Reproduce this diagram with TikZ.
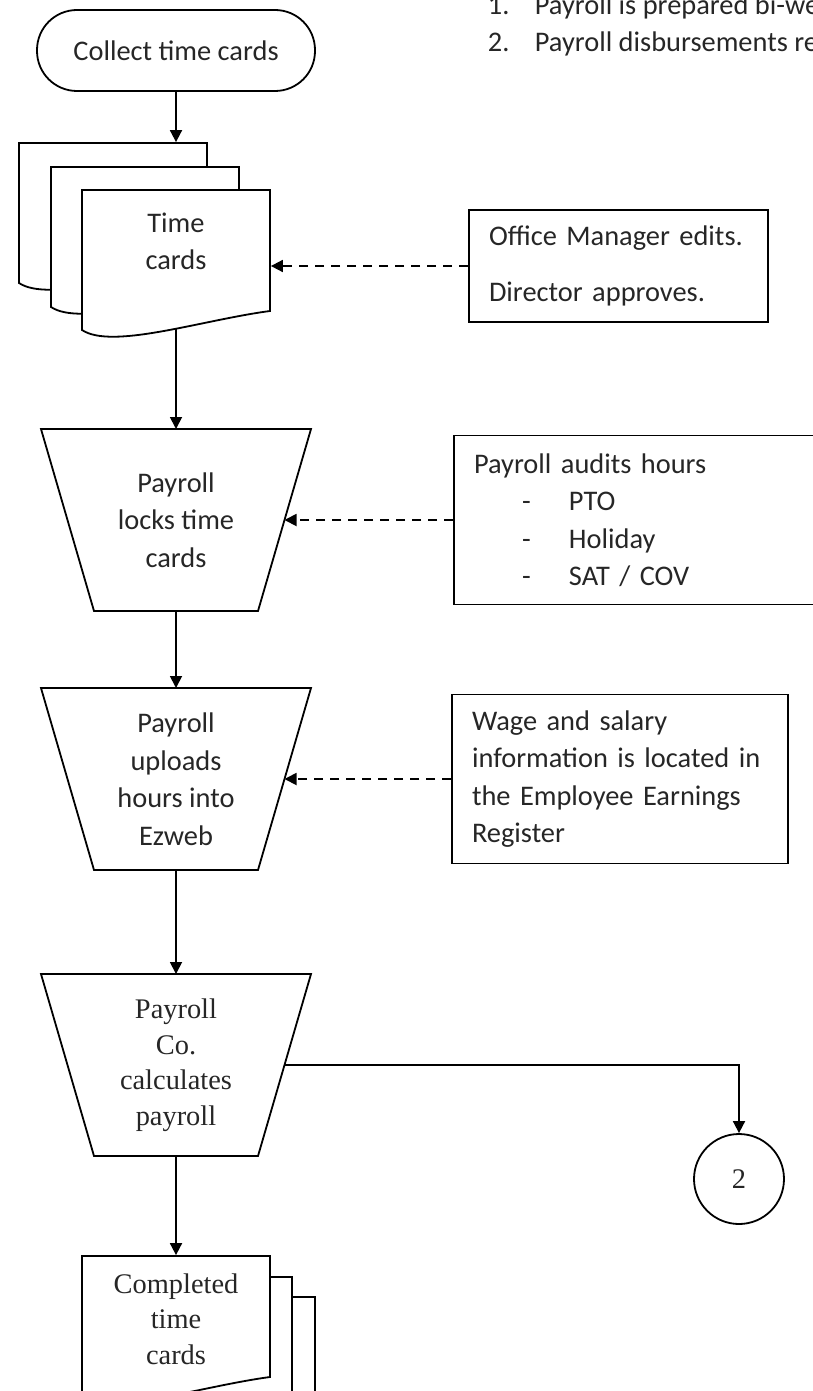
\documentclass[tikz,border=0pt]{standalone}
\usepackage{fontspec}
\setmainfont{Carlito}
\newfontfamily\timesfont{Liberation Serif}
\usetikzlibrary{arrows.meta}
\newcommand{\listdash}{\makebox[95pt][l]{\hspace*{48pt}-}}

\tikzset{
  sheet/.pic={
    \draw[fill=white] (0,0) -- (188,0) -- (188,121)
      .. controls (120,130) and (30,160) .. (0,140) -- cycle;
    \node[inner sep=0pt, minimum width=188pt, minimum height=138pt] (-frame) at (94,69) {};
  }
}

\begin{document}
\begin{tikzpicture}[x=1pt, y=-1pt, line width=1.8pt,
  every node/.style={font=\fontsize{28.4pt}{37.5pt}\selectfont, text=black!85},
  term/.style={draw, rounded corners=40pt, minimum width=278pt, minimum height=81pt},
  manual/.style={minimum width=270pt, minimum height=182pt, outer sep=0pt, align=center,
    append after command={\pgfextra{\draw (\tikzlastnode.north west) -- (\tikzlastnode.north east)
      -- ([xshift=-53pt]\tikzlastnode.south east) -- ([xshift=53pt]\tikzlastnode.south west) -- cycle;}}},
  note/.style={draw, align=left, inner xsep=20pt},
  serif/.style={font=\timesfont\fontsize{28.4pt}{35.5pt}\selectfont},
  arrow/.style={-{Triangle[length=12pt,width=12pt]}},
  dasharrow/.style={arrow, dash pattern=on 9pt off 7pt}]
\useasboundingbox (0,0) rectangle (813,1391);
% notes at the top
\node[anchor=base west, inner sep=0pt] (rule1) at (487,15) {\makebox[47pt][l]{1.}Payroll is prepared bi-we};
\node[anchor=base west, inner sep=0pt] (rule2) at (487,52) {\makebox[47pt][l]{2.}Payroll disbursements re};
\node[term] (start) at (176,50.5) {Collect time cards};
% time card stack
\pic (tcb) at (19,143) {sheet};
\pic (tcm) at (51,167) {sheet};
\pic (tcf) at (82,190) {sheet};
\node[align=center] (tctext) at (176,241.5) {Time\\cards};
\node[manual] (lock) at (176,520) {Payroll\\locks time\\cards};
\node[manual] (upload) at (176,779) {Payroll\\uploads\\hours into\\Ezweb};
\node[manual, serif] (calc) at (176,1065) {Payroll\\Co.\\calculates\\payroll};
% side notes
\node[note, text width=259pt, minimum height=112pt] (edits) at (618.5,266) {Office Manager edits.\\[18pt]Director approves.};
\node[note, text width=346pt, minimum height=169pt] (audit) at (647,520) {Payroll audits hours\\\listdash PTO\\\listdash Holiday\\\listdash SAT / COV};
\node[note, text width=296pt, minimum height=169pt] (wage) at (620,779) {Wage and salary\\information is located in\\the Employee Earnings\\Register};
\node[draw, circle, serif, minimum size=90pt, inner sep=0pt] (conn) at (739,1179) {2};
% completed cards
\pic (cmb) at (127,1297) {sheet};
\pic (cmm) at (104,1277) {sheet};
\pic (cmf) at (82,1256) {sheet};
\node[serif, align=center] (cmtext) at (176,1319) {Completed\\time\\cards};
% connectors
\draw[arrow] (start) -- (start |- tcb-frame.north);
\draw[arrow] (tcf-frame.south) -- (lock);
\draw[arrow] (lock) -- (upload);
\draw[arrow] (upload) -- (calc);
\draw[arrow] (calc) -- (calc |- cmf-frame.north);
\draw[arrow] ([xshift=-26.5pt]calc.east) -| (conn);
\draw[dasharrow] (edits.west) -- (edits.west -| tcf-frame.east);
\draw[dasharrow] (audit.west) -- ([xshift=-26.5pt]lock.east);
\draw[dasharrow] (wage.west) -- ([xshift=-26.5pt]upload.east);
\end{tikzpicture}
\end{document}
